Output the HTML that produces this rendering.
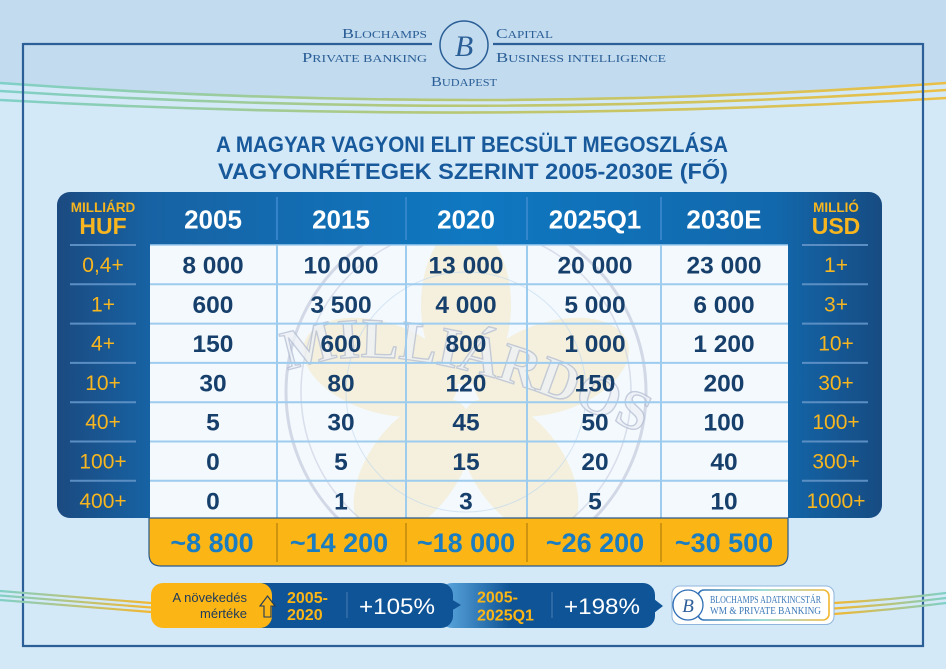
<!DOCTYPE html>
<html><head><meta charset="utf-8"><style>
html,body{margin:0;padding:0;background:#d4e9f8;}
svg{display:block;}
text{font-family:"Liberation Sans",sans-serif;}
.serif{font-family:"Liberation Serif",serif;}
</style></head><body>
<svg width="946" height="669" viewBox="0 0 946 669" xmlns="http://www.w3.org/2000/svg">
<defs>
<linearGradient id="wave" x1="0" y1="0" x2="946" y2="0" gradientUnits="userSpaceOnUse">
<stop offset="0" stop-color="#7fd0c8"/><stop offset="0.45" stop-color="#b4c878"/><stop offset="1" stop-color="#ebbf45"/></linearGradient>
<linearGradient id="waveL" x1="0" y1="0" x2="151" y2="0" gradientUnits="userSpaceOnUse">
<stop offset="0" stop-color="#7fd0c8"/><stop offset="1" stop-color="#f2b730"/></linearGradient>
<linearGradient id="waveR" x1="834" y1="0" x2="946" y2="0" gradientUnits="userSpaceOnUse">
<stop offset="0" stop-color="#f2b730"/><stop offset="1" stop-color="#7fd0c8"/></linearGradient>
<linearGradient id="panel" x1="57" y1="0" x2="882" y2="0" gradientUnits="userSpaceOnUse">
<stop offset="0" stop-color="#1b4a80"/><stop offset="0.11" stop-color="#1762a3"/><stop offset="0.5" stop-color="#0f78c1"/><stop offset="0.87" stop-color="#1268ac"/><stop offset="1" stop-color="#174b82"/></linearGradient>
<linearGradient id="seg2" x1="445" y1="0" x2="510" y2="0" gradientUnits="userSpaceOnUse">
<stop offset="0" stop-color="#5aa5dd"/><stop offset="1" stop-color="#0f5496"/></linearGradient>
<linearGradient id="logoB" x1="698" y1="0" x2="829" y2="0" gradientUnits="userSpaceOnUse">
<stop offset="0" stop-color="#2f6fb5"/><stop offset="0.5" stop-color="#7fd0c8"/><stop offset="1" stop-color="#f2b730"/></linearGradient>
<clipPath id="body"><rect x="150" y="245" width="638" height="273"/></clipPath>
<path id="arc" d="M288 372 Q400 322 655 440"/>
</defs>

<rect x="0" y="0" width="946" height="669" fill="#d4e9f8"/>
<path d="M0 0 H946 V83 Q473 117 0 83 Z" fill="#c2dbef"/>

<g fill="none" stroke="url(#wave)" stroke-width="2.6">
<path d="M0 83 Q473 117 946 83"/>
<path d="M0 91 Q473 121 946 90"/>
<path d="M0 100 Q473 126 946 98"/>
</g>

<g stroke="#2c5f97" stroke-width="2.2" fill="none">
<line x1="23" y1="44" x2="432" y2="44"/>
<line x1="493" y1="44" x2="923" y2="44"/>
<line x1="23" y1="43" x2="23" y2="647"/>
<line x1="923" y1="43" x2="923" y2="647"/>
<line x1="22" y1="646" x2="924" y2="646"/>
</g>

<g fill="#2a5e96" class="serif">
<text class="serif" x="342" y="38" textLength="85" lengthAdjust="spacingAndGlyphs"><tspan font-size="14">B</tspan><tspan font-size="10.5">LOCHAMPS</tspan></text>
<text class="serif" x="302" y="62" textLength="125" lengthAdjust="spacingAndGlyphs"><tspan font-size="14">P</tspan><tspan font-size="10.5">RIVATE BANKING</tspan></text>
<text class="serif" x="496" y="38" textLength="57" lengthAdjust="spacingAndGlyphs"><tspan font-size="14">C</tspan><tspan font-size="10.5">APITAL</tspan></text>
<text class="serif" x="496" y="62" textLength="170" lengthAdjust="spacingAndGlyphs"><tspan font-size="14">B</tspan><tspan font-size="10.5">USINESS INTELLIGENCE</tspan></text>
<text class="serif" x="431" y="86" textLength="66" lengthAdjust="spacingAndGlyphs"><tspan font-size="14">B</tspan><tspan font-size="10.5">UDAPEST</tspan></text>
</g>
<circle cx="464" cy="45" r="24" fill="none" stroke="#2a5e96" stroke-width="1.5"/>
<text class="serif" x="464" y="56" font-size="30" font-style="italic" fill="#2a5e96" text-anchor="middle">B</text>

<g fill="#17599b" font-weight="bold" font-size="22">
<text x="216" y="152" textLength="512" lengthAdjust="spacingAndGlyphs">A MAGYAR VAGYONI ELIT BECSÜLT MEGOSZLÁSA</text>
<text x="218" y="179" textLength="510" lengthAdjust="spacingAndGlyphs">VAGYONRÉTEGEK SZERINT 2005-2030E (FŐ)</text>
</g>

<rect x="57" y="192" width="825" height="326" rx="13" fill="url(#panel)"/>
<rect x="150" y="245" width="638" height="273" fill="#f4f9fd"/>

<g clip-path="url(#body)">
<g transform="translate(466 395)" fill="#f6dc97" opacity="0.3">
<ellipse cx="0" cy="-90" rx="45" ry="80"/>
<ellipse cx="0" cy="-90" rx="45" ry="80" transform="rotate(72)"/>
<ellipse cx="0" cy="-90" rx="45" ry="80" transform="rotate(144)"/>
<ellipse cx="0" cy="-90" rx="45" ry="80" transform="rotate(216)"/>
<ellipse cx="0" cy="-90" rx="45" ry="80" transform="rotate(288)"/>
</g>
<circle cx="466" cy="392" r="180" fill="none" stroke="#c3cadc" stroke-width="3" opacity="0.7"/>
<circle cx="466" cy="392" r="165" fill="none" stroke="#ccd3e3" stroke-width="1.5" opacity="0.7"/>
<circle cx="466" cy="392" r="120" fill="none" stroke="#bcd6ee" stroke-width="1" opacity="0.6"/>
<text class="serif" font-size="56" font-weight="bold" fill="#eef2f7" stroke="#b4bed3" stroke-width="1.4" opacity="0.75"><textPath href="#arc">MILLIÁRDOS</textPath></text>
</g>

<g stroke="#3f8bd0" stroke-width="1.5">
<line x1="277" y1="197" x2="277" y2="240"/><line x1="406" y1="197" x2="406" y2="240"/>
<line x1="527" y1="197" x2="527" y2="240"/><line x1="661" y1="197" x2="661" y2="240"/>
</g>
<g stroke="#9dccee" stroke-width="2">
<line x1="150" y1="245" x2="788" y2="245" stroke-width="1.5"/>
<line x1="150" y1="284.3" x2="788" y2="284.3"/><line x1="150" y1="323.6" x2="788" y2="323.6"/>
<line x1="150" y1="362.9" x2="788" y2="362.9"/><line x1="150" y1="402.2" x2="788" y2="402.2"/>
<line x1="150" y1="441.5" x2="788" y2="441.5"/><line x1="150" y1="480.8" x2="788" y2="480.8"/>
<line x1="277" y1="245" x2="277" y2="518"/><line x1="406" y1="245" x2="406" y2="518"/>
<line x1="527" y1="245" x2="527" y2="518"/><line x1="661" y1="245" x2="661" y2="518"/>
</g>
<g stroke="#5b8fc4" stroke-width="2">
<line x1="70" y1="245" x2="136" y2="245"/><line x1="70" y1="284.3" x2="136" y2="284.3"/>
<line x1="70" y1="323.6" x2="136" y2="323.6"/><line x1="70" y1="362.9" x2="136" y2="362.9"/>
<line x1="70" y1="402.2" x2="136" y2="402.2"/><line x1="70" y1="441.5" x2="136" y2="441.5"/>
<line x1="70" y1="480.8" x2="136" y2="480.8"/>
<line x1="802" y1="245" x2="868" y2="245"/><line x1="802" y1="284.3" x2="868" y2="284.3"/>
<line x1="802" y1="323.6" x2="868" y2="323.6"/><line x1="802" y1="362.9" x2="868" y2="362.9"/>
<line x1="802" y1="402.2" x2="868" y2="402.2"/><line x1="802" y1="441.5" x2="868" y2="441.5"/>
<line x1="802" y1="480.8" x2="868" y2="480.8"/>
</g>

<g fill="#f7b61f" text-anchor="middle">
<text x="103" y="212" font-size="13.5" font-weight="bold">MILLIÁRD</text>
<text x="103" y="234" font-size="23" font-weight="bold">HUF</text>
<text x="836" y="212" font-size="13.5" font-weight="bold">MILLIÓ</text>
<text x="836" y="234" font-size="23" font-weight="bold">USD</text>
</g>
<g fill="#ffffff" font-size="26" font-weight="bold" text-anchor="middle">
<text x="213" y="228.5">2005</text><text x="341" y="228.5">2015</text>
<text x="466" y="228.5">2020</text><text x="595" y="228.5">2025Q1</text>
<text x="724" y="228.5">2030E</text>
</g>

<g fill="#f7b61f" font-size="21" text-anchor="middle">
<text x="103" y="272">0,4+</text><text x="103" y="311.3">1+</text><text x="103" y="350.6">4+</text>
<text x="103" y="389.9">10+</text><text x="103" y="429.2">40+</text><text x="103" y="468.5">100+</text>
<text x="103" y="507.8">400+</text>
<text x="836" y="272">1+</text><text x="836" y="311.3">3+</text><text x="836" y="350.6">10+</text>
<text x="836" y="389.9">30+</text><text x="836" y="429.2">100+</text><text x="836" y="468.5">300+</text>
<text x="836" y="507.8">1000+</text>
</g>

<g fill="#163f6b" font-size="24.5" font-weight="bold" text-anchor="middle">
<text x="213" y="273.5">8 000</text><text x="341" y="273.5">10 000</text><text x="466" y="273.5">13 000</text><text x="595" y="273.5">20 000</text><text x="724" y="273.5">23 000</text>
<text x="213" y="312.8">600</text><text x="341" y="312.8">3 500</text><text x="466" y="312.8">4 000</text><text x="595" y="312.8">5 000</text><text x="724" y="312.8">6 000</text>
<text x="213" y="352.1">150</text><text x="341" y="352.1">600</text><text x="466" y="352.1">800</text><text x="595" y="352.1">1 000</text><text x="724" y="352.1">1 200</text>
<text x="213" y="391.4">30</text><text x="341" y="391.4">80</text><text x="466" y="391.4">120</text><text x="595" y="391.4">150</text><text x="724" y="391.4">200</text>
<text x="213" y="430.7">5</text><text x="341" y="430.7">30</text><text x="466" y="430.7">45</text><text x="595" y="430.7">50</text><text x="724" y="430.7">100</text>
<text x="213" y="470">0</text><text x="341" y="470">5</text><text x="466" y="470">15</text><text x="595" y="470">20</text><text x="724" y="470">40</text>
<text x="213" y="509.3">0</text><text x="341" y="509.3">1</text><text x="466" y="509.3">3</text><text x="595" y="509.3">5</text><text x="724" y="509.3">10</text>
</g>

<path d="M149 518 H788 V554 Q788 566 776 566 H161 Q149 566 149 554 Z" fill="#fbb515" stroke="#2a5a8f" stroke-width="1.2"/>
<g stroke="#cf940f" stroke-width="2">
<line x1="277" y1="523" x2="277" y2="562"/><line x1="406" y1="523" x2="406" y2="562"/>
<line x1="527" y1="523" x2="527" y2="562"/><line x1="661" y1="523" x2="661" y2="562"/>
</g>
<g fill="#1a7cc1" font-size="27" font-weight="bold" text-anchor="middle">
<text x="212" y="552">~8 800</text><text x="339" y="552">~14 200</text><text x="466" y="552">~18 000</text>
<text x="595" y="552">~26 200</text><text x="724" y="552">~30 500</text>
</g>

<g fill="none" stroke="url(#waveL)" stroke-width="2.2">
<path d="M0 591 L151 603"/><path d="M0 595.5 L151 607.5"/><path d="M0 600 L151 612"/>
</g>
<g fill="none" stroke="url(#waveR)" stroke-width="2.2">
<path d="M834 603 Q890 600 946 593"/><path d="M834 608.5 Q890 605 946 598"/><path d="M834 614 Q890 610 946 603"/>
</g>

<rect x="440" y="583" width="215" height="45" rx="12" fill="url(#seg2)"/>
<polygon points="654,599 663,606 654,613" fill="#0f5496"/>
<rect x="250" y="583" width="203" height="45" rx="12" fill="#0f5496"/>
<polygon points="451,599 461,605 451,611" fill="#0f5496"/>
<rect x="151" y="583" width="121" height="45" rx="12" fill="#fbb515"/>
<g fill="#1d3a5c" font-size="13" text-anchor="end">
<text x="247" y="602">A növekedés</text><text x="247" y="618">mértéke</text>
</g>
<path d="M267.5 596 L275 606 L271 606 L271 617 L264 617 L264 606 L260 606 Z" fill="#fbb515" stroke="#1d3a5c" stroke-width="1.1"/>
<g fill="#fbb515" font-size="16" font-weight="bold">
<text x="287" y="603">2005-</text><text x="287" y="620">2020</text>
<text x="477" y="602.5">2005-</text><text x="477" y="620.5">2025Q1</text>
</g>
<g stroke="#3f75ad" stroke-width="1.2">
<line x1="347" y1="592" x2="347" y2="618"/><line x1="552" y1="592" x2="552" y2="618"/>
</g>
<g fill="#ffffff" font-size="22">
<text x="359" y="614" textLength="76" lengthAdjust="spacingAndGlyphs">+105%</text>
<text x="564" y="614" textLength="76" lengthAdjust="spacingAndGlyphs">+198%</text>
</g>

<rect x="672" y="586" width="162" height="38.5" rx="8" fill="#ffffff" stroke="#8fb5dc" stroke-width="1"/>
<rect x="698" y="590" width="131" height="30" rx="6" fill="#ffffff" stroke="url(#logoB)" stroke-width="1.6"/>
<circle cx="688" cy="605" r="15" fill="#ffffff" stroke="#2f6fb5" stroke-width="1.3"/>
<text class="serif" x="688" y="612" font-size="19" font-style="italic" fill="#2f5f9a" text-anchor="middle">B</text>
<g class="serif" fill="#3b78b8" font-size="10">
<text class="serif" x="710" y="603" textLength="111" lengthAdjust="spacingAndGlyphs">BLOCHAMPS ADATKINCSTÁR</text>
<text class="serif" x="710" y="614" textLength="111" lengthAdjust="spacingAndGlyphs">WM &amp; PRIVATE BANKING</text>
</g>
</svg>
</body></html>
